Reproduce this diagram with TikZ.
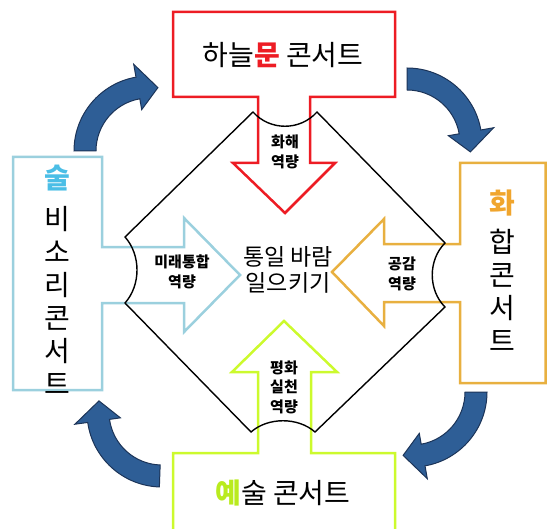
\documentclass[tikz,border=0pt]{standalone}
\usepackage{fontspec}
\setmainfont{Noto Sans CJK KR}

\definecolor{moonred}{RGB}{237,28,36}
\definecolor{sulline}{RGB}{155,208,222}
\definecolor{sultext}{RGB}{75,190,230}
\definecolor{hwaline}{RGB}{232,176,64}
\definecolor{hwatext}{RGB}{240,165,45}
\definecolor{yeline}{RGB}{204,250,45}
\definecolor{yetext}{RGB}{185,235,30}
\definecolor{turnfill}{RGB}{46,94,150}
\definecolor{turnline}{RGB}{28,52,88}

\begin{document}
\begin{tikzpicture}[x=1pt,y=-1pt,
  frame/.style={line width=2.5pt,line join=miter},
  turn/.style={fill=turnfill,draw=turnline,line width=1pt},
  big/.style={font=\fontsize{28}{33}\selectfont,align=center},
  small/.style={font=\fontsize{15}{19.5}\selectfont\bfseries,align=center}]
  \clip (0,0) rectangle (548,529);

  % 상자와 화살표
  \draw[frame,draw=moonred] (173,12) -- (395,12) -- (395,97) -- (310,97) -- (310,163) -- (335,163)
    -- (285,213) -- (233,163) -- (258,163) -- (258,97) -- (173,97) -- cycle;
  \draw[frame,draw=sulline] (13,157) -- (102,157) -- (102,247) -- (184,247) -- (184,218) -- (240,275)
    -- (184,332) -- (184,303) -- (102,303) -- (102,390) -- (13,390) -- cycle;
  \draw[frame,draw=hwaline] (460,163) -- (545.5,163) -- (545.5,383) -- (460,383) -- (460,302) -- (384,302)
    -- (384,326) -- (332,272) -- (384,219) -- (384,244) -- (460,244) -- cycle;
  \draw[frame,draw=yeline] (173,535) -- (173,453) -- (258,453) -- (258,372) -- (232,372) -- (284,321)
    -- (337,372) -- (311,372) -- (311,453) -- (395,453) -- (395,535);

  % 마름모
  \draw[line width=1.4pt] (253,112) -- (125,237) .. controls (141,255) and (141,285) .. (125,303)
    -- (251,432) .. controls (268,417) and (298,417) .. (315,432)
    -- (445,307) .. controls (428,290) and (428,260) .. (445,243)
    -- (317,112) .. controls (300,131) and (270,131) .. cycle;

  % 순환 화살표
  \foreach \cx/\cy/\a in {149/151/180, 407/143/270, 412/392/0, 162/412/92}
  {
    \pgfmathsetmacro{\b}{\a+80}
    \pgfmathsetmacro{\t}{\a+98}
    \filldraw[turn] ([shift={(\a:75)}]\cx,\cy) arc[start angle=\a,end angle=\b,radius=75]
      -- ([shift={(\b:88)}]\cx,\cy) -- ([shift={(\t:64)}]\cx,\cy) -- ([shift={(\b:42)}]\cx,\cy)
      -- ([shift={(\b:53)}]\cx,\cy) arc[start angle=\b,end angle=\a,radius=53] -- cycle;
  }

  % 글자
  \node[big] (moon) at (283,55) {하늘\textcolor{moonred}{\bfseries 문} 콘서트};
  \node[big,text=sultext] (sul) at (57,178) {\bfseries 술};
  \node[big] (bisori) at (57,300) {비\\소\\리\\콘\\서\\트};
  \node[big,text=hwatext] (hwa) at (502,203) {\bfseries 화};
  \node[big] (hap) at (502,290) {합\\콘\\서\\트};
  \node[big] (ye) at (283,493) {\textcolor{yetext}{\bfseries 예}술 콘서트};
  \node[font=\fontsize{23}{26}\selectfont,align=center] (wind) at (288,270) {통일 바람\\일으키기};

  \node[small] (hwahae) at (285,152) {화해\\역량};
  \node[small] (mirae) at (182,272) {미래통합\\역량};
  \node[small] (gonggam) at (402,274) {공감\\역량};
  \node[small] (pyeong) at (284,387) {평화\\실천\\역량};
\end{tikzpicture}
\end{document}
